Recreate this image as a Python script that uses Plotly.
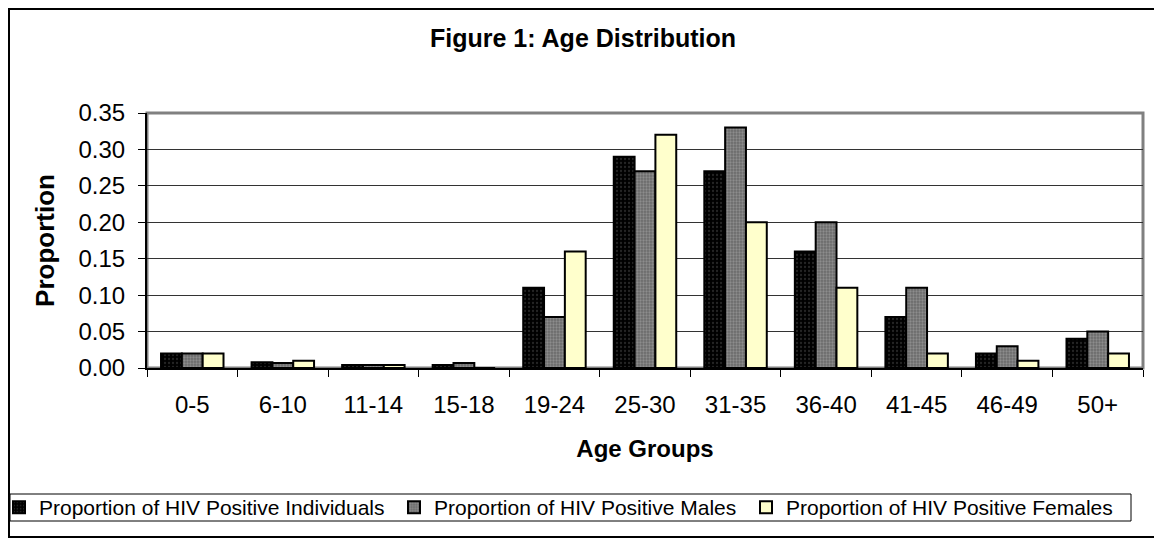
import plotly.graph_objects as go

categories = ["0-5", "6-10", "11-14", "15-18", "19-24", "25-30", "31-35", "36-40", "41-45", "46-49", "50+"]
individuals = [0.02, 0.008, 0.004, 0.004, 0.11, 0.29, 0.27, 0.16, 0.07, 0.02, 0.04]
males = [0.02, 0.007, 0.004, 0.007, 0.07, 0.27, 0.33, 0.20, 0.11, 0.03, 0.05]
females = [0.02, 0.010, 0.004, 0.0, 0.16, 0.32, 0.20, 0.11, 0.02, 0.01, 0.02]
series_names = ["Proportion of HIV Positive Individuals",
                "Proportion of HIV Positive Males",
                "Proportion of HIV Positive Females"]

# page body has an 8px margin: build the figure in reference pixels shifted by it
OFF = 8
W, H = 1162 - OFF, 539 - OFF
PL, PT, PR, PB = 147, 113, 1143, 368          # plot area in reference pixels
ML, MT = PL - OFF, PT - OFF
MR, MB = W - (PR - OFF), H - (PB - OFF)
PW, PH = PR - PL, PB - PT

def px_x(p):          # reference pixel -> paper x
    return (p - PL) / PW

def px_y(p):          # reference pixel -> paper y
    return (PB - p) / PH

def cx(p):            # reference pixel -> container x
    return (p - OFF) / W

def cy(p):            # reference pixel -> container y
    return 1 - (p - OFF) / H

FONT = "Liberation Sans, Arial, sans-serif"

fig = go.Figure()
fig.add_trace(go.Bar(
    x=categories, y=individuals, name=series_names[0], legend="legend",
    marker=dict(color="#000000", line=dict(color="black", width=2),
                pattern=dict(shape=".", fgcolor="#4a4a4a", bgcolor="#000000", size=4, solidity=0.25)),
))
fig.add_trace(go.Bar(
    x=categories, y=males, name=series_names[1], legend="legend2",
    marker=dict(color="#808080", line=dict(color="black", width=2),
                pattern=dict(shape=".", fgcolor="#b0b0b0", bgcolor="#6a6a6a", size=3, solidity=0.45)),
))
fig.add_trace(go.Bar(
    x=categories, y=females, name=series_names[2], legend="legend3",
    marker=dict(color="#FFFFCC", line=dict(color="black", width=2)),
))

leg_common = dict(orientation="h", yref="container", xanchor="left",
                  yanchor="middle", y=cy(507.5), borderwidth=0, bgcolor="rgba(0,0,0,0)",
                  font=dict(size=21, family=FONT, color="black"), itemwidth=30)

fig.update_layout(
    width=W, height=H,
    margin=dict(l=ML, r=MR, t=MT, b=MB, pad=0, autoexpand=False),
    paper_bgcolor="white", plot_bgcolor="white",
    barmode="group", bargap=0.31, bargroupgap=0.0,
    font=dict(family=FONT, color="black"),
    title=dict(text="<b>Figure 1: Age Distribution</b>", x=cx(583), xref="container", xanchor="center",
               y=cy(38), yref="container", yanchor="middle",
               font=dict(size=25, family=FONT, color="black")),
    legend=dict(xref="paper", x=px_x(-1), **leg_common),
    legend2=dict(xref="container", x=cx(394), **leg_common),
    legend3=dict(xref="container", x=cx(746), **leg_common),
    showlegend=True,
)

fig.update_xaxes(
    type="category", tickson="boundaries", ticks="outside", ticklen=7, tickcolor="black",
    showline=True, linecolor="black", linewidth=2, showgrid=False,
    tickfont=dict(size=24, family=FONT, color="black"), ticklabelstandoff=14,
    title=dict(text="<b>Age Groups</b>", font=dict(size=24, family=FONT, color="black"), standoff=23),
)
fig.update_yaxes(
    range=[0, 0.35], dtick=0.05, tick0=0, tickformat=".2f",
    ticks="outside", ticklen=7, tickcolor="black",
    showline=True, linecolor="black", linewidth=2,
    showgrid=True, gridcolor="#333333", gridwidth=1, zeroline=False,
    tickfont=dict(size=24, family=FONT, color="black"), ticklabelstandoff=8,
    title=dict(text="<b>Proportion</b>", font=dict(size=26, family=FONT, color="black"), standoff=16),
)

# plot-area frame (grey, Excel style)
fig.add_shape(type="rect", xref="paper", yref="paper", x0=0, x1=1, y0=0, y1=1,
              line=dict(color="#808080", width=3), layer="below")
# outer chart border (as close to the page corner as the figure allows)
fig.add_shape(type="rect", xref="paper", yref="paper",
              x0=px_x(OFF + 1), x1=px_x(1170), y0=px_y(537), y1=px_y(OFF + 1),
              line=dict(color="black", width=2), layer="below")
# legend box
fig.add_shape(type="rect", xref="paper", yref="paper",
              x0=px_x(10), x1=px_x(1131), y0=px_y(521), y1=px_y(494),
              line=dict(color="black", width=1), layer="below")

fig.write_html("out.html")
